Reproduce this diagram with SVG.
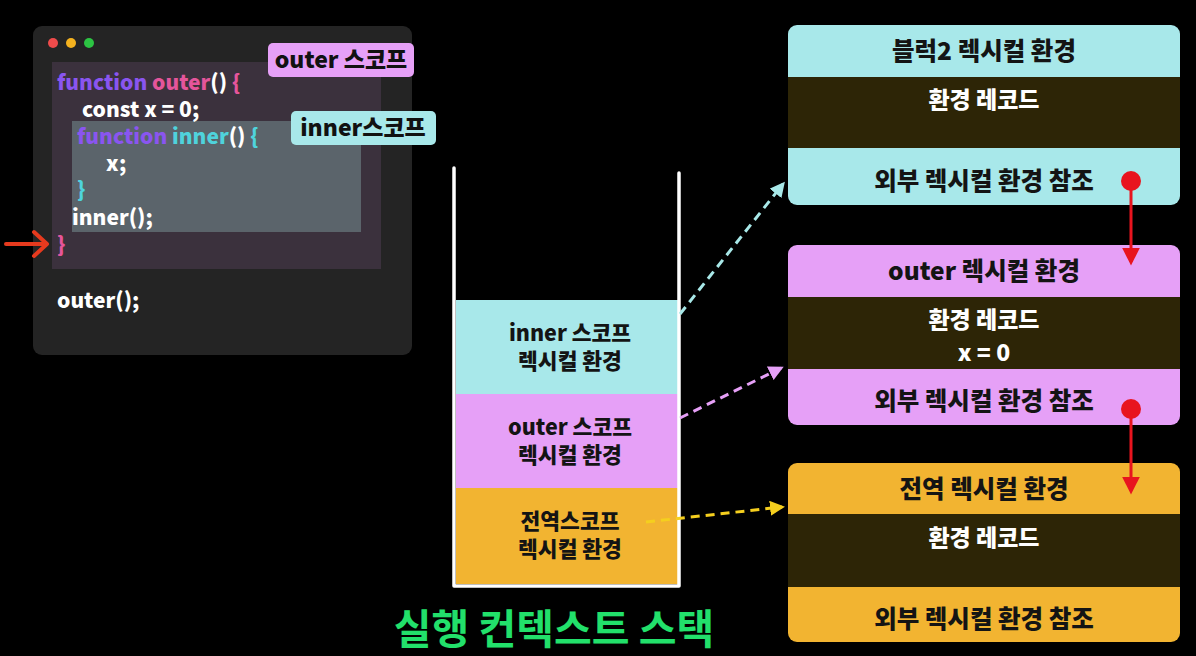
<svg xmlns="http://www.w3.org/2000/svg" width="1196" height="656" viewBox="0 0 1196 656">
<defs>
<style>
text{font-family:"Noto Sans CJK KR","Noto Sans",sans-serif;font-weight:700}
.code{font-size:21px;fill:#ffffff;font-weight:800}
.kw{fill:#8a55f0}
.pk{fill:#e5559b}
.cy{fill:#4fd3dc}
.lbl{font-size:23px;fill:#111;text-anchor:middle;font-weight:800}
.stk{font-size:21.5px;fill:#141414;text-anchor:middle;font-weight:800}
.hd{font-size:24.5px;fill:#141414;text-anchor:middle;font-weight:800}
.rec{font-size:23px;fill:#ffffff;text-anchor:middle;font-weight:800}
.dark{fill:#2d2506}
</style>
<marker id="ahCy" viewBox="0 0 10 10" refX="8" refY="5" markerWidth="5" markerHeight="5" orient="auto"><path d="M0,0 L10,5 L0,10 z" fill="#a8e8e8"/></marker>
<marker id="ahPk" viewBox="0 0 10 10" refX="8" refY="5" markerWidth="5" markerHeight="5" orient="auto"><path d="M0,0 L10,5 L0,10 z" fill="#e6a0f7"/></marker>
<marker id="ahYl" viewBox="0 0 10 10" refX="8" refY="5" markerWidth="5" markerHeight="5" orient="auto"><path d="M0,0 L10,5 L0,10 z" fill="#f5cf1e"/></marker>
<marker id="ahRd" viewBox="0 0 10 10" refX="8" refY="5" markerWidth="6" markerHeight="6" orient="auto"><path d="M0,0 L10,5 L0,10 z" fill="#e8141e"/></marker>
</defs>
<rect width="1196" height="656" fill="#000000"/>

<g id="code-window">
<rect x="33" y="26" width="379" height="329" rx="9" fill="#242424"/>
<circle cx="53" cy="43" r="5" fill="#ef4b4b"/>
<circle cx="71" cy="43" r="5" fill="#f4b21f"/>
<circle cx="89" cy="43" r="5" fill="#2cc443"/>
<rect x="52" y="62" width="329" height="207" fill="#3b313d"/>
<rect x="72" y="121" width="289" height="111" fill="#5b646b"/>
<text class="code" x="57" y="90"><tspan class="kw">function</tspan> <tspan class="pk">outer</tspan>() <tspan class="pk">{</tspan></text>
<text class="code" x="82" y="117">const x = 0;</text>
<text class="code" x="77" y="144"><tspan class="kw">function</tspan> <tspan class="cy">inner</tspan>() <tspan class="cy">{</tspan></text>
<text class="code" x="106" y="171">x;</text>
<text class="code cy" x="77" y="197">}</text>
<text class="code" x="72" y="225">inner();</text>
<text class="code pk" x="57" y="252">}</text>
<text class="code" x="57" y="308">outer();</text>
</g>

<g id="outer-scope-label">
<rect x="268" y="43" width="146" height="34" rx="5" fill="#e6a0f7"/>
<text class="lbl" x="341" y="68">outer 스코프</text>
</g>
<g id="inner-scope-label">
<rect x="291" y="111" width="145" height="34" rx="5" fill="#a8e8ea"/>
<text class="lbl" x="363" y="136">inner스코프</text>
</g>

<g id="pointer-arrow">
<line x1="6" y1="244" x2="46" y2="244" stroke="#e63a1e" stroke-width="4" stroke-linecap="round"/>
<path d="M34,232 L47,244 L34,256" fill="none" stroke="#e63a1e" stroke-width="4" stroke-linecap="round" stroke-linejoin="round"/>
</g>

<g id="stack">
<rect x="456" y="300" width="222" height="95" fill="#a8e8ea"/>
<rect x="456" y="394" width="222" height="95" fill="#e6a0f7"/>
<rect x="456" y="488" width="222" height="96" fill="#f2b431"/>
<path d="M454,168 L454,586 L679,586 L679,173" fill="none" stroke="#ffffff" stroke-width="3.5" stroke-linecap="round" stroke-linejoin="round"/>
</g>
<g id="stack-inner">
<text class="stk" x="570" y="341">inner 스코프</text>
<text class="stk" x="570" y="369">렉시컬 환경</text>
</g>
<g id="stack-outer">
<text class="stk" x="570" y="435">outer 스코프</text>
<text class="stk" x="570" y="463">렉시컬 환경</text>
</g>
<g id="stack-global">
<text class="stk" x="570" y="529">전역스코프</text>
<text class="stk" x="570" y="557">렉시컬 환경</text>
</g>

<g id="env-block2">
<rect x="788" y="25" width="392" height="180" rx="9" fill="#a8e8ea"/>
<rect class="dark" x="788" y="77" width="392" height="71"/>
<text class="hd" x="984" y="60">블럭2 렉시컬 환경</text>
<text class="rec" x="984" y="108">환경 레코드</text>
<text class="hd" x="984" y="190">외부 렉시컬 환경 참조</text>
</g>
<g id="env-outer">
<rect x="788" y="245" width="392" height="180" rx="9" fill="#e6a0f7"/>
<rect class="dark" x="788" y="297" width="392" height="72"/>
<text class="hd" x="984" y="280">outer 렉시컬 환경</text>
<text class="rec" x="984" y="328">환경 레코드</text>
<text class="rec" x="984" y="361">x = 0</text>
<text class="hd" x="984" y="410">외부 렉시컬 환경 참조</text>
</g>
<g id="env-global">
<rect x="788" y="463" width="392" height="179" rx="9" fill="#f2b431"/>
<rect class="dark" x="788" y="514" width="392" height="73"/>
<text class="hd" x="984" y="498">전역 렉시컬 환경</text>
<text class="rec" x="984" y="546">환경 레코드</text>
<text class="hd" x="984" y="628">외부 렉시컬 환경 참조</text>
</g>

<g id="connectors">
<line x1="680" y1="314" x2="783" y2="184" stroke="#a8e8e8" stroke-width="3" stroke-dasharray="9,6" marker-end="url(#ahCy)"/>
<line x1="680" y1="418" x2="781" y2="368" stroke="#e6a0f7" stroke-width="3" stroke-dasharray="9,6" marker-end="url(#ahPk)"/>
<line x1="646" y1="522" x2="782" y2="507" stroke="#f5cf1e" stroke-width="3" stroke-dasharray="9,6" marker-end="url(#ahYl)"/>
<circle cx="1131" cy="181" r="10" fill="#e8141e"/>
<line x1="1131" y1="181" x2="1131" y2="262" stroke="#e8141e" stroke-width="3" marker-end="url(#ahRd)"/>
<circle cx="1131" cy="409" r="10" fill="#e8141e"/>
<line x1="1131" y1="409" x2="1131" y2="491" stroke="#e8141e" stroke-width="3" marker-end="url(#ahRd)"/>
</g>

<g id="title">
<text x="554" y="644" text-anchor="middle" font-size="41" font-weight="900" fill="#22e06b">실행 컨텍스트 스택</text>
</g>
</svg>
